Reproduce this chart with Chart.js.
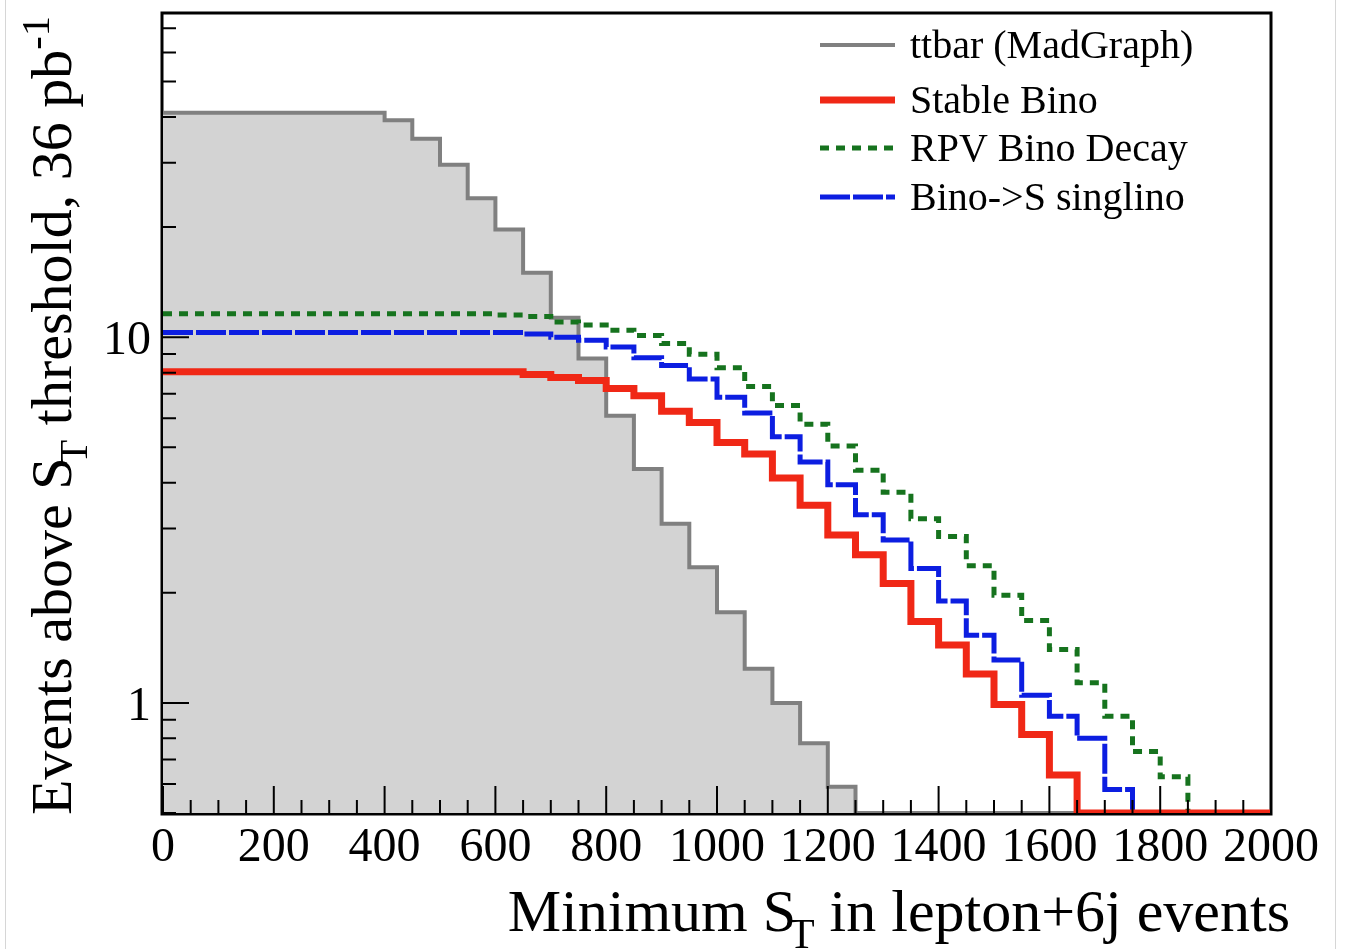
<!DOCTYPE html>
<html>
<head>
<meta charset="utf-8">
<script src="https://cdn.jsdelivr.net/npm/chart.js@4.4.1/dist/chart.umd.min.js"></script>
<style>
  html, body { margin: 0; padding: 0; background: #fff; }
  #wrap { position: relative; width: 1345px; height: 949px; }
  #edge { position: absolute; left: 5px; top: 0; width: 1329px; height: 949px;
          border-left: 1px solid #d6d6d6; border-right: 1px solid #d6d6d6; pointer-events: none; }
</style>
</head>
<body>
<div id="wrap">
  <canvas id="myChart" width="1345" height="949"></canvas>
  <div id="edge"></div>
</div>
<script>
const ctx = document.getElementById('myChart');

// bin edges of the S_T threshold (GeV), 50 GeV bins
const binEdges = [0,50,100,150,200,250,300,350,400,450,500,550,600,650,700,750,800,850,900,950,
  1000,1050,1100,1150,1200,1250,1300,1350,1400,1450,1500,1550,1600,1650,1700,1750,1800,1850,1900,1950,2000];

// events above threshold, one value per bin (0 = empty)
const ttbar = [41.1,41.1,41.1,41.1,41.1,41.1,41.1,41.1,39.2,34.9,29.6,24.0,19.7,15.0,11.3,8.75,6.10,4.36,3.09,2.35,
  1.77,1.24,1.00,0.776,0.59,0,0,0,0,0,0,0,0,0,0,0,0,0,0,0];
const stableBino = [8.05,8.05,8.05,8.05,8.05,8.05,8.05,8.05,8.05,8.05,8.05,8.05,8.05,7.91,7.76,7.61,7.24,6.92,6.27,5.84,
  5.15,4.79,4.12,3.47,2.88,2.54,2.12,1.67,1.44,1.20,0.99,0.82,0.635,0,0,0,0,0,0,0];
const rpvBino = [11.6,11.6,11.6,11.6,11.6,11.6,11.6,11.6,11.6,11.6,11.6,11.6,11.5,11.4,11.0,10.8,10.45,10.1,9.61,8.98,
  8.25,7.33,6.50,5.78,5.04,4.33,3.77,3.19,2.85,2.37,1.97,1.68,1.40,1.135,0.92,0.736,0.628,0,0,0];
const binoSinglino = [10.3,10.3,10.3,10.3,10.3,10.3,10.3,10.3,10.3,10.3,10.3,10.3,10.3,10.2,10.0,9.81,9.40,8.79,8.37,7.69,
  6.85,6.20,5.34,4.56,3.95,3.27,2.79,2.33,1.90,1.53,1.31,1.05,0.92,0.80,0.58,0,0,0,0,0];

// axis ticks
const xLabels = [0,200,400,600,800,1000,1200,1400,1600,1800,2000];
const xMinor = [50,100,150,250,300,350,450,500,550,650,700,750,850,900,950,1050,1100,1150,1250,1300,1350,
  1450,1500,1550,1650,1700,1750,1850,1900,1950];
const yLabels = [1, 10];
const yMinor = [0.5,0.6,0.7,0.8,0.9,2,3,4,5,6,7,8,9,20,30,40,50,60,70];

const Y_MIN = 0.5, Y_MAX = 77;
const SERIF = '"Liberation Serif", "Times New Roman", serif';

// histogram: one point per lower bin edge, last edge repeats the last bin
function toPoints(vals) {
  return binEdges.map((x, i) => ({ x: x, y: Math.max(vals[Math.min(i, vals.length - 1)], Y_MIN) }));
}

// text with sub/superscripts, parts = [[text, kind]]
function drawRich(c, parts, x, y, size, align) {
  const spans = parts.map(([t, kind]) => {
    const s = kind ? size * 0.7 : size;
    c.font = s + 'px ' + SERIF;
    let w = c.measureText(t).width;
    if (kind === 'sub') w -= size * 0.12;
    return { t, kind, s, w };
  });
  const total = spans.reduce((a, p) => a + p.w, 0);
  let cx = align === 'right' ? x - total : x;
  spans.forEach(p => {
    c.font = p.s + 'px ' + SERIF;
    let dx = 0, dy = 0;
    if (p.kind === 'sub') { dx = -size * 0.12; dy = size * 0.28; }
    if (p.kind === 'sup') { dy = -size * 0.38; }
    c.fillText(p.t, cx + dx, y + dy);
    cx += p.w;
  });
}

const rootAxes = {
  id: 'rootAxes',
  beforeDatasetsDraw(chart) {
    const c = chart.ctx, a = chart.chartArea;
    c.save();
    c.strokeStyle = '#000';
    c.lineWidth = 3;
    c.strokeRect(a.left - 1, a.top, a.right - a.left + 1, a.bottom - a.top + 1);
    c.restore();
  },
  afterDatasetsDraw(chart) {
    const c = chart.ctx, a = chart.chartArea;
    const x = chart.scales.x, y = chart.scales.y;
    c.save();
    c.strokeStyle = '#000';
    c.lineWidth = 2;
    c.beginPath();
    xMinor.forEach(v => { const p = x.getPixelForValue(v); c.moveTo(p, a.bottom); c.lineTo(p, a.bottom - 13); });
    xLabels.forEach(v => { const p = x.getPixelForValue(v); c.moveTo(p, a.bottom); c.lineTo(p, a.bottom - 27); });
    yMinor.forEach(v => { const p = y.getPixelForValue(v); c.moveTo(a.left, p); c.lineTo(a.left + 13, p); });
    yLabels.forEach(v => { const p = y.getPixelForValue(v); c.moveTo(a.left, p); c.lineTo(a.left + 26, p); });
    c.stroke();

    c.fillStyle = '#000';
    c.font = '48px ' + SERIF;
    c.textAlign = 'center';
    c.textBaseline = 'alphabetic';
    xLabels.forEach(v => c.fillText(String(v), x.getPixelForValue(v), a.bottom + 48));
    c.textAlign = 'right';
    yLabels.forEach(v => c.fillText(String(v), a.left - 12, y.getPixelForValue(v) + 17));

    c.textAlign = 'left';
    drawRich(c, [['Minimum S', ''], ['T', 'sub'], [' in lepton+6j events', '']], 1290, 931, 60, 'right');

    c.save();
    c.translate(71, 16);
    c.rotate(-Math.PI / 2);
    drawRich(c, [['Events above S', ''], ['T', 'sub'], [' threshold, 36 pb', ''], ['-1', 'sup']], 0, 0, 58, 'right');
    c.restore();

    // legend inside the frame
    const rows = [45, 100, 148, 197];
    chart.data.datasets.forEach((ds, i) => {
      const ry = rows[i];
      c.save();
      c.strokeStyle = ds.borderColor;
      c.lineWidth = ds.borderWidth;
      c.setLineDash(ds.borderDash || []);
      c.beginPath();
      c.moveTo(820, ry);
      c.lineTo(895, ry);
      c.stroke();
      c.restore();
      c.fillStyle = '#000';
      c.font = '40px ' + SERIF;
      c.textAlign = 'left';
      c.fillText(ds.label, 910, ry + 13);
    });
    c.restore();
  }
};

new Chart(ctx, {
  type: 'line',
  data: {
    datasets: [
      {
        label: 'ttbar (MadGraph)',
        data: toPoints(ttbar),
        borderColor: 'rgb(128,128,128)',
        backgroundColor: 'rgb(211,211,211)',
        borderWidth: 4,
        fill: 'start',
        order: 1
      },
      {
        label: 'Stable Bino',
        data: toPoints(stableBino),
        borderColor: 'rgb(240,40,22)',
        borderWidth: 7,
        fill: false
      },
      {
        label: 'RPV Bino Decay',
        data: toPoints(rpvBino),
        borderColor: 'rgb(22,115,30)',
        borderWidth: 5,
        borderDash: [9, 7],
        fill: false
      },
      {
        label: 'Bino->S singlino',
        data: toPoints(binoSinglino),
        borderColor: 'rgb(12,30,225)',
        borderWidth: 5,
        borderDash: [30, 3],
        fill: false
      }
    ]
  },
  options: {
    responsive: false,
    animation: false,
    layout: { padding: { left: 163, right: 74, top: 13, bottom: 136 } },
    elements: {
      point: { radius: 0 },
      line: { stepped: true, tension: 0, borderCapStyle: 'butt', borderJoinStyle: 'miter' }
    },
    scales: {
      x: { type: 'linear', min: 0, max: 2000, display: false },
      y: { type: 'logarithmic', min: Y_MIN, max: Y_MAX, display: false }
    },
    plugins: {
      legend: { display: false },
      tooltip: { enabled: false }
    }
  },
  plugins: [rootAxes]
});
</script>
</body>
</html>
